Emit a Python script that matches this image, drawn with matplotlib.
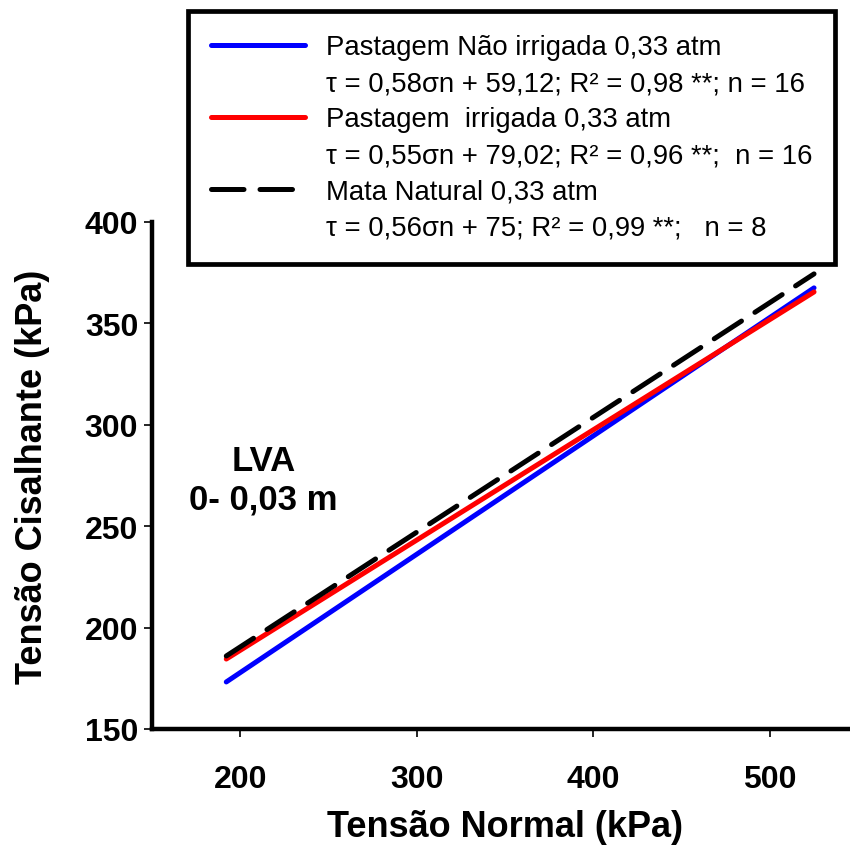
import numpy as np
import matplotlib
matplotlib.use("Agg")
import matplotlib.pyplot as plt
from matplotlib.lines import Line2D

# ── Data ──────────────────────────────────────────────────────────────────────
SIGMA_N      = [192, 525]                 # kPa, start / end of fitted lines
TAU_NAO_IRR  = [173.2, 367.5]             # Pastagem Não irrigada
TAU_IRR      = [184.5, 365.5]             # Pastagem irrigada
TAU_MATA     = [186.0, 374.4]             # Mata Natural

LABELS = [
    "Pastagem Não irrigada 0,33 atm",
    "τ = 0,58σn + 59,12; R² = 0,98 **; n = 16",
    "Pastagem  irrigada 0,33 atm",
    "τ = 0,55σn + 79,02; R² = 0,96 **;  n = 16",
    "Mata Natural 0,33 atm",
    "τ = 0,56σn + 75; R² = 0,99 **;   n = 8",
]
X_TICKS = [200, 300, 400, 500]
Y_TICKS = [150, 200, 250, 300, 350, 400]

# ── Style ─────────────────────────────────────────────────────────────────────
plt.rcParams.update({
    "font.family": ["Liberation Sans", "DejaVu Sans"],
})

fig = plt.figure(figsize=(8.5, 8.54), dpi=100)
ax = fig.add_axes([0.179, 0.1452, 0.8306, 0.5937])

LW = 3.6
l_blue, = ax.plot(SIGMA_N, TAU_NAO_IRR, color="#0000FF", lw=LW, solid_capstyle="round")
l_red,  = ax.plot(SIGMA_N, TAU_IRR, color="#FF0000", lw=LW, solid_capstyle="round")
l_blk,  = ax.plot(SIGMA_N, TAU_MATA, color="black", lw=LW, dashes=(6.5, 3.2),
                  dash_capstyle="round")

ax.set_xlim(150, 550)
ax.set_ylim(150, 400)
ax.set_xticks(X_TICKS)
ax.set_yticks(Y_TICKS)

for side in ("top", "right"):
    ax.spines[side].set_visible(False)
for side in ("left", "bottom"):
    ax.spines[side].set_linewidth(3.2)
ax.tick_params(direction="out", length=6, width=1.2, labelsize=23, pad=4)
ax.tick_params(axis="x", pad=19)
for lab in ax.get_xticklabels() + ax.get_yticklabels():
    lab.set_fontweight("bold")

ax.set_xlabel("Tensão Normal (kPa)", fontsize=26, fontweight="bold", labelpad=11)
ax.set_ylabel("Tensão Cisalhante (kPa)", fontsize=26, fontweight="bold")
ax.yaxis.set_label_coords(-0.145, 0.5)

ax.text(213, 273, "LVA\n0- 0,03 m", fontsize=25, fontweight="bold",
        ha="center", va="center", linespacing=1.2)

# ── Legend (two text rows per series) ─────────────────────────────────────────
blank = Line2D([], [], color="none")
handles = [l_blue, blank, l_red, blank, l_blk, blank]
leg = fig.legend(handles, LABELS, loc="upper left",
                 bbox_to_anchor=(188 / 850, 1 - 12 / 854),
                 fontsize=19.8, frameon=True, fancybox=False, framealpha=1,
                 handlelength=3.4, handletextpad=0.75, labelspacing=0.365,
                 borderpad=0.85, borderaxespad=0)
leg.get_frame().set_edgecolor("black")
leg.get_frame().set_linewidth(3.4)

fig.savefig("out.png", dpi=100)
